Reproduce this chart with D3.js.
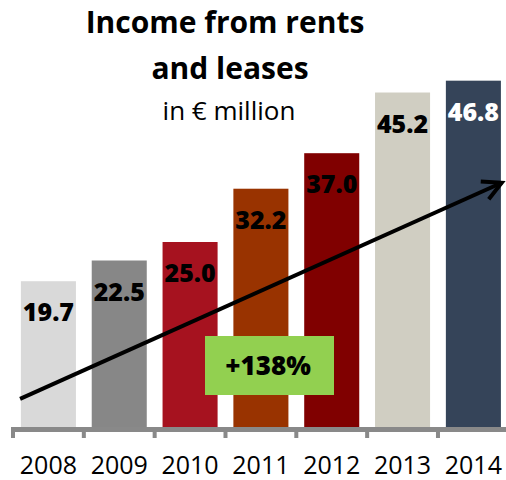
<!DOCTYPE html>
<html>
<head>
<meta charset="utf-8">
<script src="https://cdn.jsdelivr.net/npm/d3@7"></script>
<style>
  html, body { margin: 0; padding: 0; background: #ffffff; }
  svg { display: block; }
  text { font-family: "Open Sans", "DejaVu Sans", sans-serif; }
</style>
</head>
<body>
<div id="chart"></div>
<script>
// Income from rents and leases, € million
const years = ["2008", "2009", "2010", "2011", "2012", "2013", "2014"];
const income = [19.7, 22.5, 25.0, 32.2, 37.0, 45.2, 46.8];
const barColors = ["#d9d9d9", "#878787", "#a6121f", "#993300", "#800000", "#d0cec2", "#354459"];
const labelColors = ["#000", "#000", "#000", "#000", "#000", "#000", "#fff"];
const titleLines = ["Income from rents", "and leases"];
const subtitle = "in € million";
const growthLabel = "+138%";
// trend arrow, in (category index, value) space
const trendFrom = [-0.4, 3.8];
const trendTo = [6.4, 33.0];

const W = 506, H = 480;
const svg = d3.select("#chart").append("svg")
  .attr("width", W).attr("height", H);

const x = d3.scaleBand()
  .domain(years)
  .range([13, 508.8])
  .paddingInner(0.223)
  .paddingOuter(0.1115);

const xi = d3.scaleLinear().domain([-0.5, years.length - 0.5]).range(x.range());

const y = d3.scaleLinear().domain([0, 50]).range([427, 57]);

// bars
svg.append("g").selectAll("rect")
  .data(years)
  .join("rect")
  .attr("x", d => x(d))
  .attr("width", x.bandwidth())
  .attr("y", (d, i) => y(income[i]))
  .attr("height", (d, i) => y(0) - y(income[i]))
  .attr("fill", (d, i) => barColors[i]);

// value labels inside bar tops
svg.append("g").selectAll("text")
  .data(years)
  .join("text")
  .attr("x", d => x(d) + x.bandwidth() / 2)
  .attr("y", (d, i) => y(income[i]) + 40)
  .attr("text-anchor", "middle")
  .attr("font-weight", 800)
  .attr("font-size", 25)
  .attr("fill", (d, i) => labelColors[i])
  .text((d, i) => income[i].toFixed(1));

// category axis: thick grey baseline with ticks between categories
const axisG = svg.append("g");
axisG.append("rect")
  .attr("x", x.range()[0] - 2)
  .attr("y", y(0))
  .attr("width", x.range()[1] - x.range()[0] + 4)
  .attr("height", 5)
  .attr("fill", "#898989");
const tickPos = d3.range(years.length + 1).map(i => xi(i - 0.5));
axisG.selectAll("rect.tick")
  .data(tickPos)
  .join("rect")
  .attr("class", "tick")
  .attr("x", d => d - 2)
  .attr("y", y(0) + 5)
  .attr("width", 4)
  .attr("height", 6)
  .attr("fill", "#898989");
axisG.selectAll("text")
  .data(years)
  .join("text")
  .attr("x", d => x(d) + x.bandwidth() / 2)
  .attr("y", 474)
  .attr("text-anchor", "middle")
  .attr("font-size", 25)
  .attr("fill", "#000")
  .text(d => d);

// growth badge
const badge = svg.append("g");
badge.append("rect")
  .attr("x", 205).attr("y", 336)
  .attr("width", 129).attr("height", 59)
  .attr("fill", "#92d050");
badge.append("text")
  .attr("x", 268).attr("y", 375)
  .attr("text-anchor", "middle")
  .attr("font-weight", 800)
  .attr("font-size", 26)
  .attr("fill", "#000")
  .text(growthLabel);

// trend arrow
const x0 = xi(trendFrom[0]), y0 = y(trendFrom[1]);
const x1 = xi(trendTo[0]), y1 = y(trendTo[1]);
svg.append("line")
  .attr("x1", x0).attr("y1", y0)
  .attr("x2", x1).attr("y2", y1)
  .attr("stroke", "#000")
  .attr("stroke-width", 4);
const ang = Math.atan2(y1 - y0, x1 - x0);
const headLen = 21, headAng = Math.PI / 6.5;
const p1 = [x1 - headLen * Math.cos(ang - headAng), y1 - headLen * Math.sin(ang - headAng)];
const p2 = [x1 - headLen * Math.cos(ang + headAng), y1 - headLen * Math.sin(ang + headAng)];
svg.append("path")
  .attr("d", `M${p1[0]},${p1[1]} L${x1},${y1} L${p2[0]},${p2[1]}`)
  .attr("fill", "none")
  .attr("stroke", "#000")
  .attr("stroke-width", 4)
  .attr("stroke-linejoin", "miter")
  .attr("stroke-linecap", "butt");

// title block
svg.append("text")
  .attr("x", 225).attr("y", 33)
  .attr("text-anchor", "middle")
  .attr("font-weight", 700)
  .attr("font-size", 30)
  .attr("fill", "#000")
  .text(titleLines[0]);
svg.append("text")
  .attr("x", 230).attr("y", 79)
  .attr("text-anchor", "middle")
  .attr("font-weight", 700)
  .attr("font-size", 30)
  .attr("fill", "#000")
  .text(titleLines[1]);
svg.append("text")
  .attr("x", 229).attr("y", 120)
  .attr("text-anchor", "middle")
  .attr("font-size", 26)
  .attr("fill", "#000")
  .text(subtitle);
</script>
</body>
</html>
